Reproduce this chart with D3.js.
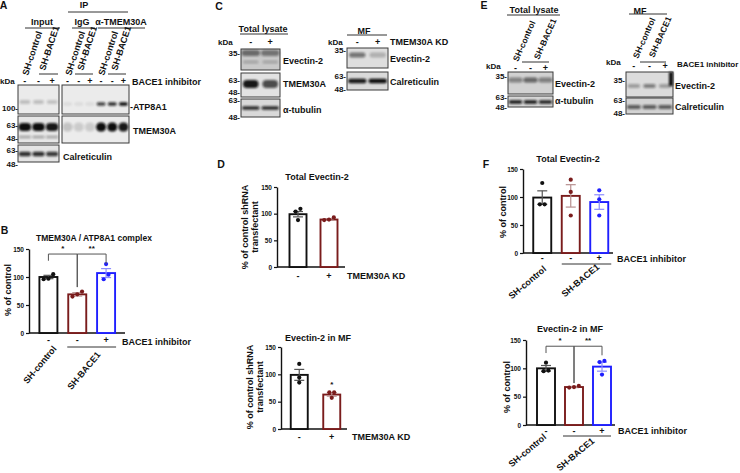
<!DOCTYPE html>
<html>
<head>
<meta charset="utf-8">
<script src="https://cdn.jsdelivr.net/npm/d3@7"></script>
<style>
  body { margin: 0; background: #fff; }
  svg { display: block; }
  text { font-family: "Liberation Sans", Arial, sans-serif; font-weight: bold; fill: #111; }
</style>
</head>
<body>
<svg id="fig" width="740" height="473"></svg>
<script>
// ---- data ----
const yTicks = [0, 50, 100, 150];
const conds3 = ["SH-control", "SH-BACE1", "SH-BACE1 + inhibitor"];
const inhSigns3 = ["-", "-", "+"];
const conds2 = ["control shRNA", "TMEM30A KD"];
const kdSigns2 = ["-", "+"];
const barColors3 = ["#111111", "#7a1c1c", "#1f1fff"];
const errColors3 = ["#555555", "#b78f8f", "#8c8cff"];

// B: TMEM30A / ATP8A1 complex (% of control)
const complexMean = [100, 69, 107];
const complexSem = [3, 3, 8];
const complexPts = [[97, 105, 96], [65, 74, 69], [123, 104, 96]];
const complexSig = [
  { a: 0, b: 1, top: 141, la: 129, lb: 82, label: "*" },
  { a: 1, b: 2, top: 141, la: 82, lb: 123, label: "**" }
];

// D: TMEM30A knockdown
const kdTotalMean = [99, 89];
const kdTotalSem = [5, 1.5];
const kdTotalPts = [[109, 88, 104], [93, 88, 89]];
const kdMfMean = [99, 63];
const kdMfSem = [10, 3];
const kdMfPts = [[119, 94, 85], [67, 67, 57]];
const kdMfStar = { bar: 1, at: 76, label: "*" };

// F: BACE1 knockdown / inhibitor
const bTotalMean = [99, 102, 91];
const bTotalSem = [12, 20, 13];
const bTotalPts = [[125, 87, 87], [131, 109, 67], [112, 96, 67]];
const bMfMean = [100, 67, 103];
const bMfSem = [5, 1, 8];
const bMfPts = [[110, 96, 95], [67, 69, 66], [113, 111, 89]];
const bMfSig = [
  { a: 0, b: 1, top: 139, la: 127, lb: 74, label: "*" },
  { a: 1, b: 2, top: 139, la: 74, lb: 123, label: "**" }
];

// western blot band intensities (0..1), one value per lane
const atp8a1Input = [0.2, 0.2, 0.18];
const atp8a1IP = [0.07, 0.07, 0.07, 0.75, 0.85, 1];
const tmem30aInput = [1, 1, 0.95];
const tmem30aInputLow = [0.3, 0.3, 0.3];
const tmem30aIP = [0.18, 0.14, 0.14, 1, 1, 0.95];
const calrA = [0.85, 0.85, 0.8];
const evectinTotalC = [0.5, 0.45];
const tmem30aC = [0.95, 0.7];
const tubulinC = [0.85, 0.85];
const evectinMfC = [0.5, 0.22];
const calrC = [0.95, 1];
const evectinTotalE = [0.4, 0.55, 0.42];
const tubulinE = [0.95, 0.95, 0.9];
const evectinMfE = [0.3, 0.45, 0.3];
const calrE = [0.6, 0.6, 0.6];

// ---- drawing ----
const svg = d3.select("#fig");
const defs = svg.append("defs");
defs.append("filter").attr("id", "blur")
    .attr("x", "-50%").attr("y", "-50%").attr("width", "200%").attr("height", "200%")
  .append("feGaussianBlur").attr("stdDeviation", 1.1);

function txt(x, y, s, size, anchor, rot) {
  const t = svg.append("text")
      .attr("font-size", size)
      .attr("text-anchor", anchor || "start")
      .text(s);
  if (rot) {
    t.attr("transform", `translate(${x},${y}) rotate(${rot})`);
  } else {
    t.attr("x", x).attr("y", y).attr("dominant-baseline", "central");
  }
  return t;
}

function hline(x0, x1, y, w) {
  svg.append("line").attr("x1", x0).attr("x2", x1).attr("y1", y).attr("y2", y)
      .attr("stroke", "#333").attr("stroke-width", w || 1);
}

function laneScale(box, n) {
  return d3.scalePoint().domain(d3.range(n)).range([box.x0, box.x1]).padding(0.5);
}

// one blot strip: box + blurred bands
function blot(box, bands) {
  const g = svg.append("g");
  g.append("rect")
      .attr("x", box.x0).attr("y", box.y0)
      .attr("width", box.x1 - box.x0).attr("height", box.y1 - box.y0)
      .attr("fill", box.bg);
  bands.forEach(b => {
    const lane = laneScale(box, b.vals.length);
    const w = lane.step() * (b.wf || 0.8);
    g.selectAll(null).data(b.vals).join("rect")
        .attr("x", (d, i) => lane(i) - w / 2)
        .attr("y", b.y - b.h / 2)
        .attr("width", w)
        .attr("height", b.h)
        .attr("rx", Math.min(w, b.h) / 2)
        .attr("fill", "#0d0d0d")
        .attr("opacity", d => d)
        .attr("filter", "url(#blur)");
  });
  g.append("rect")
      .attr("x", box.x0).attr("y", box.y0)
      .attr("width", box.x1 - box.x0).attr("height", box.y1 - box.y0)
      .attr("fill", "none").attr("stroke", "#3a3a3a").attr("stroke-width", 1);
  return g;
}

function signs(box, arr, y, size) {
  const lane = laneScale(box, arr.length);
  arr.forEach((s, i) => txt(lane(i), y, s, size || 9, "middle"));
}

function markers(xEnd, list) {
  list.forEach(m => txt(xEnd, m[1], m[0], 8, "end"));
}

// spread points that sit at the same height (GraphPad-like scatter)
function pointOffsets(vals, y, spread) {
  const order = d3.range(vals.length).sort((a, b) => vals[a] - vals[b]);
  const off = new Array(vals.length).fill(0);
  let cluster = [order[0]];
  const flush = () => {
    const n = cluster.length;
    cluster.forEach((idx, k) => { off[idx] = (k - (n - 1) / 2) * spread; });
  };
  for (let k = 1; k < order.length; k++) {
    const prev = cluster[cluster.length - 1];
    if (Math.abs(y(vals[order[k]]) - y(vals[prev])) < 4.5) cluster.push(order[k]);
    else { flush(); cluster = [order[k]]; }
  }
  flush();
  return off;
}

function barChart(o) {
  const g = svg.append("g");
  const y = d3.scaleLinear().domain([0, 150]).range([o.y0, o.y1]);
  const x = d3.scalePoint().domain(o.cats).range([o.xa, o.xb]).padding(0.5);
  const bw = o.bw;

  // axes
  const ax = g.append("g")
      .attr("transform", `translate(${o.xAxis},0)`)
      .call(d3.axisLeft(y).tickValues(yTicks).tickSize(3).tickSizeOuter(0).tickPadding(2));
  ax.select(".domain").attr("stroke", "#111").attr("stroke-width", 1.4);
  ax.selectAll(".tick line").attr("stroke", "#111").attr("stroke-width", 1.2);
  ax.selectAll(".tick text")
      .attr("font-size", 6.5).attr("font-weight", "bold")
      .attr("font-family", "Liberation Sans, Arial, sans-serif").attr("fill", "#111");
  g.append("line")
      .attr("x1", o.xAxis).attr("x2", o.xEnd)
      .attr("y1", y(0)).attr("y2", y(0))
      .attr("stroke", "#111").attr("stroke-width", 1.4);

  // bars
  g.selectAll("rect.bar").data(o.mean).join("rect")
      .attr("class", "bar")
      .attr("x", (d, i) => x(o.cats[i]) - bw / 2)
      .attr("y", d => y(d))
      .attr("width", bw)
      .attr("height", d => y(0) - y(d))
      .attr("fill", "#fff")
      .attr("stroke", (d, i) => o.colors[i])
      .attr("stroke-width", 1.9);

  // error bars (mean ± SEM)
  o.mean.forEach((m, i) => {
    const cx = x(o.cats[i]);
    const col = o.errColors[i];
    const e = g.append("g").attr("stroke", col).attr("stroke-width", 1.2);
    e.append("line").attr("x1", cx).attr("x2", cx).attr("y1", y(m - o.sem[i])).attr("y2", y(m + o.sem[i]));
    [m - o.sem[i], m + o.sem[i]].forEach(v => {
      e.append("line").attr("x1", cx - 5).attr("x2", cx + 5).attr("y1", y(v)).attr("y2", y(v));
    });
  });

  // individual points
  o.pts.forEach((vals, i) => {
    const cx = x(o.cats[i]);
    const off = pointOffsets(vals, y, 4.8);
    g.selectAll(null).data(vals).join("circle")
        .attr("cx", (d, k) => cx + off[k])
        .attr("cy", d => y(d))
        .attr("r", 2.1)
        .attr("fill", o.colors[i]);
  });

  // significance brackets
  (o.sig || []).forEach(s => {
    const xa = x(o.cats[s.a]), xb = x(o.cats[s.b]);
    g.append("path")
        .attr("d", `M${xa},${y(s.la)}V${y(s.top)}H${xb}V${y(s.lb)}`)
        .attr("fill", "none").attr("stroke", "#555").attr("stroke-width", 1);
    g.append("text")
        .attr("x", (xa + xb) / 2).attr("y", y(s.top) - 3)
        .attr("text-anchor", "middle").attr("font-size", 8).text(s.label);
  });
  if (o.star) {
    g.append("text")
        .attr("x", x(o.cats[o.star.bar])).attr("y", y(o.star.at))
        .attr("text-anchor", "middle").attr("font-size", 8).text(o.star.label);
  }

  // condition signs under bars
  o.signs.forEach((s, i) => txt(x(o.cats[i]), y(0) + o.signDy, s, 9, "middle"));
  return x;
}

// ===== Panel A =====
txt(3.5, 5, "A", 10.5, "middle");
txt(84, 5, "IP", 9, "middle");
hline(68, 128, 12);
txt(42, 22, "Input", 9, "middle");
hline(25, 60, 28);
txt(82, 22, "IgG", 9, "middle");
hline(72, 95, 28);
txt(121, 22, "α-TMEM30A", 9, "middle");
hline(98, 145, 28);

const aIn = { x0: 18, x1: 59 }, aIP = { x0: 62, x1: 129 };
[[28, 76, "SH-control"], [45, 71, "SH-BACE1"], [71, 76, "SH-control"], [83, 71, "SH-BACE1"],
 [104, 76, "SH-control"], [117, 71, "SH-BACE1"]].forEach(l => txt(l[0], l[1], l[2], 9, "start", -72));
hline(39, 58, 74);
hline(75, 93, 74);
hline(108, 126, 74);

txt(0, 81, "kDa", 8);
signs(aIn, inhSigns3, 81);
signs(aIP, inhSigns3.concat(inhSigns3), 81);
txt(132, 82, "BACE1 inhibitor", 9);

blot({ ...aIn, y0: 85, y1: 114, bg: "#ebebeb" }, [{ y: 102, h: 4, vals: atp8a1Input }]);
blot({ ...aIP, y0: 85, y1: 114, bg: "#ebebeb" }, [{ y: 104, h: 3.5, vals: atp8a1IP }]);
blot({ ...aIn, y0: 116, y1: 143, bg: "#e6e6e6" }, [{ y: 127, h: 8, vals: tmem30aInput, wf: 0.92 }, { y: 137, h: 2.5, vals: tmem30aInputLow, wf: 0.9 }]);
blot({ ...aIP, y0: 116, y1: 143, bg: "#ececec" }, [{ y: 127, h: 9, vals: tmem30aIP, wf: 0.9 }]);
blot({ ...aIn, y0: 145, y1: 162, bg: "#e4e4e4" }, [{ y: 154, h: 4.5, vals: calrA, wf: 0.9 }]);
markers(18, [["100-", 108], ["63-", 125], ["48-", 138], ["63-", 150], ["48-", 164]]);
txt(130, 107, "-ATP8A1", 9);
txt(133, 131, "TMEM30A", 9);
txt(63, 157, "Calreticulin", 9);

// ===== Panel B =====
txt(4.5, 230, "B", 10.5, "middle");
txt(94, 238, "TMEM30A / ATP8A1 complex", 8.5, "middle");
txt(8, 290, "% of control", 9, "middle", -90).attr("dominant-baseline", "central");
const xB = barChart({
  cats: conds3, mean: complexMean, sem: complexSem, pts: complexPts, sig: complexSig,
  colors: barColors3, errColors: errColors3, signs: inhSigns3,
  xAxis: 29, xEnd: 125, y0: 333, y1: 249, xa: 34, xb: 120.5, bw: 18, signDy: 7
});
txt(122, 342, "BACE1 inhibitor", 9);
hline(xB(conds3[1]) - 10, xB(conds3[2]) + 10, 347);
txt(57, 349, "SH-control", 9, "end", -50);
txt(101, 355, "SH-BACE1", 9, "end", -50);

// ===== Panel C =====
txt(219, 6, "C", 10.5, "middle");
const cT = { x0: 241, x1: 280 }, cM = { x0: 347, x1: 388 };
txt(263, 29, "Total lysate", 9, "middle");
hline(240, 288, 34);
txt(218, 42, "kDa", 8);
signs(cT, kdSigns2, 42);
blot({ ...cT, y0: 49, y1: 70, bg: "#c9c9c9" }, [{ y: 53, h: 6, vals: evectinTotalC, wf: 0.95 }, { y: 62, h: 3, vals: [0.2, 0.2] }]);
blot({ ...cT, y0: 73, y1: 97, bg: "#e2e2e2" }, [{ y: 84, h: 8, vals: tmem30aC }]);
blot({ ...cT, y0: 99, y1: 117, bg: "#d9d9d9" }, [{ y: 108, h: 3.5, vals: tubulinC, wf: 0.9 }]);
markers(240, [["35-", 53], ["63-", 80], ["48-", 92], ["63-", 100], ["48-", 117]]);
txt(283, 61, "Evectin-2", 9);
txt(283, 84, "TMEM30A", 9);
txt(283, 110, "α-tubulin", 9);

txt(364, 31, "MF", 9, "middle");
hline(347, 387, 35);
txt(328, 42, "kDa", 8);
signs(cM, kdSigns2, 42);
txt(390, 42, "TMEM30A KD", 9);
blot({ ...cM, y0: 48, y1: 68, bg: "#dedede" }, [{ y: 55, h: 5, vals: evectinMfC }]);
blot({ ...cM, y0: 72, y1: 90, bg: "#dadada" }, [{ y: 81, h: 4.5, vals: calrC, wf: 0.9 }]);
markers(346, [["35-", 50], ["63-", 76], ["48-", 89]]);
txt(390, 59, "Evectin-2", 9);
txt(390, 82, "Calreticulin", 9);

// ===== Panel D =====
txt(221, 164, "D", 10.5, "middle");
txt(317, 177, "Total Evectin-2", 9, "middle");
txt(244.5, 227, "% of control shRNA", 9, "middle", -90).attr("dominant-baseline", "central");
txt(254.5, 227, "transfectant", 9, "middle", -90).attr("dominant-baseline", "central");
barChart({
  cats: conds2, mean: kdTotalMean, sem: kdTotalSem, pts: kdTotalPts,
  colors: barColors3, errColors: errColors3, signs: kdSigns2,
  xAxis: 277, xEnd: 345, y0: 267, y1: 187, xa: 282.5, xb: 344.5, bw: 17, signDy: 9
});
txt(347, 276, "TMEM30A KD", 9);

txt(318, 338, "Evectin-2 in MF", 9, "middle");
txt(249.5, 387, "% of control shRNA", 9, "middle", -90).attr("dominant-baseline", "central");
txt(259.5, 387, "transfectant", 9, "middle", -90).attr("dominant-baseline", "central");
barChart({
  cats: conds2, mean: kdMfMean, sem: kdMfSem, pts: kdMfPts, star: kdMfStar,
  colors: barColors3, errColors: errColors3, signs: kdSigns2,
  xAxis: 281, xEnd: 347, y0: 429, y1: 347, xa: 283, xb: 348, bw: 17, signDy: 8
});
txt(352, 437, "TMEM30A KD", 9);

// ===== Panel E =====
txt(484, 5, "E", 10.5, "middle");
const eT = { x0: 508, x1: 553 }, eM = { x0: 626, x1: 673 };
txt(534, 10, "Total lysate", 9, "middle");
hline(507, 560, 15);
txt(518, 62, "SH-control", 8.5, "start", -66);
txt(539, 60, "SH-BACE1", 8.5, "start", -66);
hline(522, 549, 62);
txt(486, 66, "kDa", 8);
signs(eT, inhSigns3, 68);
blot({ ...eT, y0: 72, y1: 94, bg: "#d2d2d2" }, [{ y: 80, h: 5, vals: evectinTotalE, wf: 0.95 }]);
blot({ ...eT, y0: 96, y1: 107, bg: "#d6d6d6" }, [{ y: 102, h: 3.5, vals: tubulinE, wf: 0.9 }]);
markers(507, [["35-", 76], ["63-", 97], ["48-", 107]]);
txt(555, 84, "Evectin-2", 9);
txt(555, 101, "α-tubulin", 9);

txt(640, 11, "MF", 9, "middle");
hline(629, 667, 14);
txt(638, 59, "SH-control", 8.5, "start", -66);
txt(654, 58, "SH-BACE1", 8.5, "start", -66);
hline(640, 666, 62);
txt(606, 62, "kDa", 8);
signs(eM, inhSigns3, 66);
txt(677, 64, "BACE1 inhibitor", 8);
const eMfBlot = blot({ ...eM, y0: 72, y1: 97, bg: "#dcdcdc" }, [{ y: 86, h: 4, vals: evectinMfE }]);
eMfBlot.insert("rect", "rect + *").attr("x", 669).attr("y", 72).attr("width", 4).attr("height", 14)
    .attr("fill", "#111").attr("filter", "url(#blur)");
blot({ ...eM, y0: 98, y1: 114, bg: "#d3d3d3" }, [{ y: 107, h: 4, vals: calrE, wf: 0.9 }]);
markers(625, [["35-", 80], ["63-", 100], ["48-", 113]]);
txt(675, 86, "Evectin-2", 9);
txt(675, 107, "Calreticulin", 9);

// ===== Panel F =====
txt(486, 164, "F", 10.5, "middle");
txt(568, 159, "Total Evectin-2", 9, "middle");
txt(503, 212, "% of control", 9, "middle", -90).attr("dominant-baseline", "central");
const xF1 = barChart({
  cats: conds3, mean: bTotalMean, sem: bTotalSem, pts: bTotalPts,
  colors: barColors3, errColors: errColors3, signs: inhSigns3,
  xAxis: 523, xEnd: 613, y0: 253, y1: 169, xa: 528, xb: 613.5, bw: 18, signDy: 5
});
txt(617, 259, "BACE1 inhibitor", 9);
hline(xF1(conds3[1]) - 9, xF1(conds3[2]) + 12, 264);
txt(547, 270, "SH-control", 9, "end", -40);
txt(600, 268, "SH-BACE1", 9, "end", -40);

txt(570, 329, "Evectin-2 in MF", 9, "middle");
txt(507, 387, "% of control", 9, "middle", -90).attr("dominant-baseline", "central");
const xF2 = barChart({
  cats: conds3, mean: bMfMean, sem: bMfSem, pts: bMfPts, sig: bMfSig,
  colors: barColors3, errColors: errColors3, signs: inhSigns3,
  xAxis: 526, xEnd: 615, y0: 425, y1: 340, xa: 532, xb: 616, bw: 18, signDy: 6
});
txt(618, 431, "BACE1 inhibitor", 9);
hline(xF2(conds3[1]) - 11, xF2(conds3[2]) + 9, 436);
txt(547, 438, "SH-control", 9, "end", -40);
txt(595, 442, "SH-BACE1", 9, "end", -40);
</script>
</body>
</html>
